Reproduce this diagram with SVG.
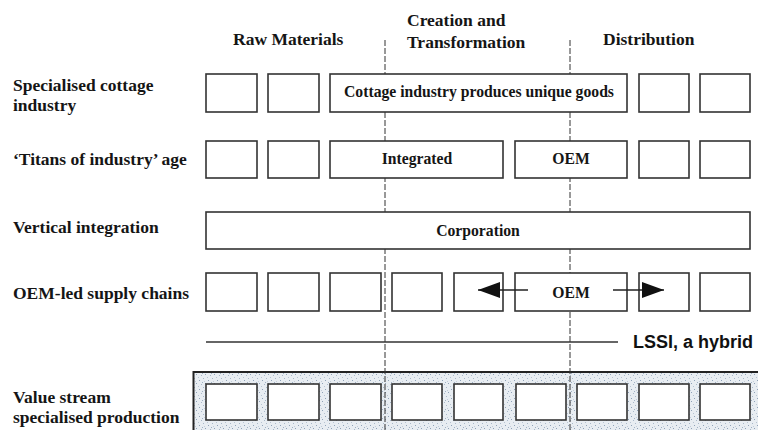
<svg xmlns="http://www.w3.org/2000/svg" width="758" height="430" viewBox="0 0 758 430">
<style>
.lbl{font-family:"Liberation Serif","Times New Roman",serif;font-weight:bold;font-size:17.5px;fill:#151515}
.hdr{font-family:"Liberation Serif","Times New Roman",serif;font-weight:bold;font-size:17.5px;fill:#151515}
.bt{font-family:"Liberation Serif","Times New Roman",serif;font-weight:bold;font-size:15.7px;fill:#151515;text-anchor:middle}
.box{fill:#fff;stroke:#333;stroke-width:1.6}
.dash{stroke:#333;stroke-width:1;stroke-dasharray:6,2;fill:none}
.arr{stroke:#222;stroke-width:1.4;fill:none}
.sans{font-family:"Liberation Sans",Arial,sans-serif;font-weight:bold;font-size:18px;fill:#111}
</style>
<defs>
<marker id="ah" markerUnits="userSpaceOnUse" markerWidth="22" markerHeight="16" refX="22" refY="8" orient="auto">
<path d="M0,0 L22,8 L0,16 z" fill="#111"/>
</marker>
<pattern id="stip" width="9" height="9" patternUnits="userSpaceOnUse">
<rect width="9" height="9" fill="#e8edf2"/>
<rect x="1" y="2" width="1" height="1" fill="#8fa2b8"/>
<rect x="5" y="0" width="1" height="1" fill="#a9b8c9"/>
<rect x="7" y="5" width="1" height="1" fill="#8fa2b8"/>
<rect x="3" y="6" width="1" height="1" fill="#a9b8c9"/>
<rect x="0" y="8" width="1" height="1" fill="#b8c4d2"/>
<rect x="6" y="3" width="1" height="1" fill="#c3cdd9"/>
<rect x="4" y="4" width="1" height="1" fill="#9fb0c4"/>
</pattern>
</defs>
<rect width="758" height="430" fill="#fff"/>

<g id="headers">
<text class="hdr" x="233" y="45">Raw Materials</text>
<text class="hdr" x="407" y="26">Creation and</text>
<text class="hdr" x="407" y="48">Transformation</text>
<text class="hdr" x="603" y="45">Distribution</text>
</g>

<g id="labels">
<text class="lbl" x="13" y="91">Specialised cottage</text>
<text class="lbl" x="13" y="111">industry</text>
<text class="lbl" x="13" y="165">‘Titans of industry’  age</text>
<text class="lbl" x="13" y="233">Vertical integration</text>
<text class="lbl" x="13" y="299">OEM-led supply chains</text>
<text class="lbl" x="13" y="403">Value stream</text>
<text class="lbl" x="13" y="423">specialised production</text>
</g>

<g id="vsp-frame">
<rect x="193.5" y="372" width="580" height="70" fill="url(#stip)" stroke="#222" stroke-width="2"/>
</g>

<g id="connectors">
<line class="dash" x1="385" y1="40" x2="385" y2="430"/>
<line class="dash" x1="570" y1="40" x2="570" y2="430"/>
<line x1="206" y1="342" x2="618" y2="342" stroke="#333" stroke-width="1.4"/>
</g>

<g id="row1">
<rect class="box" x="206" y="74" width="51" height="38"/>
<rect class="box" x="268" y="74" width="51" height="38"/>
<g id="cottage"><rect class="box" x="330" y="74" width="297" height="38"/><text class="bt" x="479" y="97">Cottage industry produces unique goods</text></g>
<rect class="box" x="639" y="74" width="50" height="38"/>
<rect class="box" x="700" y="74" width="50" height="38"/>
</g>

<g id="row2">
<rect class="box" x="206" y="141" width="51" height="37"/>
<rect class="box" x="268" y="141" width="51" height="37"/>
<g id="integrated"><rect class="box" x="330" y="141" width="173" height="37"/><text class="bt" x="417" y="164">Integrated</text></g>
<g id="oem1"><rect class="box" x="515" y="141" width="112" height="37"/><text class="bt" x="571" y="164">OEM</text></g>
<rect class="box" x="639" y="141" width="50" height="37"/>
<rect class="box" x="700" y="141" width="50" height="37"/>
</g>

<g id="row3">
<g id="corporation"><rect class="box" x="206" y="212" width="544" height="37"/><text class="bt" x="478" y="236">Corporation</text></g>
</g>

<g id="row4">
<rect class="box" x="206" y="273" width="51" height="38"/>
<rect class="box" x="268" y="273" width="51" height="38"/>
<rect class="box" x="330" y="273" width="51" height="38"/>
<rect class="box" x="392" y="273" width="50" height="38"/>
<rect class="box" x="454" y="273" width="49" height="38"/>
<g id="oem2"><rect class="box" x="515" y="273" width="112" height="38"/><text class="bt" x="571" y="298">OEM</text></g>
<rect class="box" x="639" y="273" width="50" height="38"/>
<rect class="box" x="700" y="273" width="50" height="38"/>
</g>

<g id="oem-arrows">
<line class="arr" x1="528" y1="290" x2="478" y2="290" marker-end="url(#ah)"/>
<line class="arr" x1="613" y1="290" x2="664" y2="290" marker-end="url(#ah)"/>
</g>

<g id="lssi">
<text class="sans" x="633" y="348">LSSI, a hybrid</text>
</g>

<g id="row5">
<rect class="box" x="206" y="384" width="51" height="36"/>
<rect class="box" x="268" y="384" width="51" height="36"/>
<rect class="box" x="330" y="384" width="51" height="36"/>
<rect class="box" x="392" y="384" width="50" height="36"/>
<rect class="box" x="454" y="384" width="49" height="36"/>
<rect class="box" x="516" y="384" width="50" height="36"/>
<rect class="box" x="577" y="384" width="50" height="36"/>
<rect class="box" x="639" y="384" width="50" height="36"/>
<rect class="box" x="700" y="384" width="50" height="36"/>
</g>
</svg>
